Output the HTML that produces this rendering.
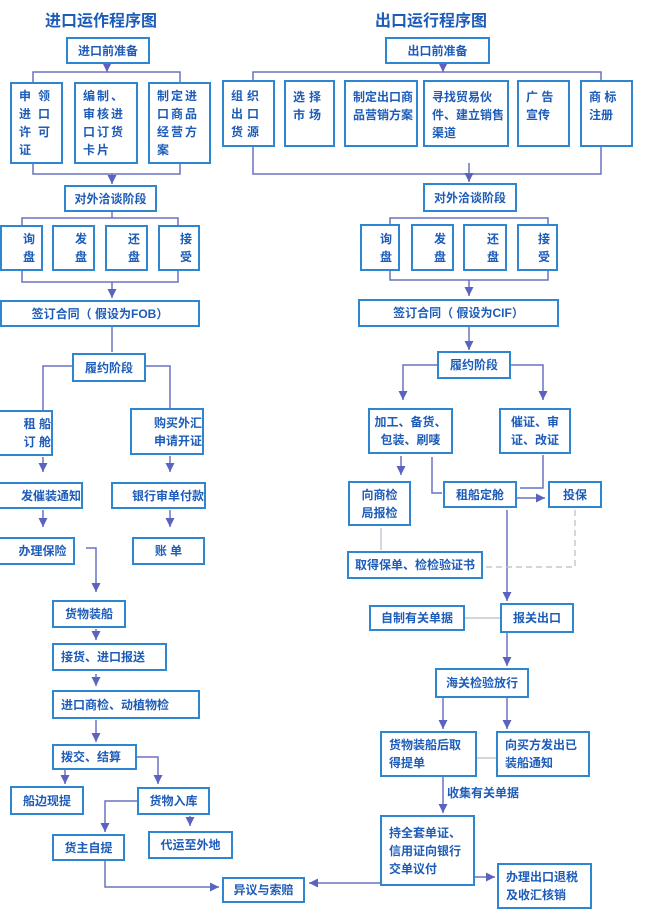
<!DOCTYPE html>
<html><head><meta charset="utf-8"><style>
body{margin:0;width:650px;height:910px;background:#fff;position:relative;overflow:hidden;font-family:"Liberation Sans","Noto Sans CJK SC",sans-serif;}
.b{position:absolute;box-sizing:border-box;border:2px solid #2f86d0;color:#1d5cb8;font-weight:bold;font-size:12px;line-height:18px;display:flex;align-items:center;justify-content:center;text-align:center;background:#fff;}
.l{justify-content:flex-start;text-align:left;padding-left:7px;}
.r{justify-content:flex-end;text-align:right;padding-right:6px;}
.t{position:absolute;color:#1d5cb8;font-weight:bold;font-size:16px;}
.s{letter-spacing:7px;}
svg{position:absolute;left:0;top:0;}
</style></head><body>
<svg width="650" height="910">
<defs><marker id="a" markerWidth="8" markerHeight="8" refX="6" refY="3" orient="auto"><path d="M0,0 L6,3 L0,6 z" fill="#5a64c0"/></marker></defs>
<g stroke="#6a72c0" stroke-width="1.5" fill="none">
<!-- left -->
<path d="M107 63 V72" marker-end="url(#a)"/>
<path d="M33 82 V72 H180 V82"/>
<path d="M33 163 V174 H180 V163"/>
<path d="M112 174 V184" marker-end="url(#a)"/>
<path d="M22 225 V218 H178 V225"/>
<path d="M112 211 V218"/>
<path d="M22 270 V282 H178 V270"/>
<path d="M112 282 V298" marker-end="url(#a)"/>
<path d="M112 326 V352"/>
<path d="M72 366 H43 V410"/>
<path d="M146 366 H170 V408"/>
<path d="M43 457 V472" marker-end="url(#a)"/>
<path d="M170 456 V472" marker-end="url(#a)"/>
<path d="M43 510 V527" marker-end="url(#a)"/>
<path d="M170 510 V527" marker-end="url(#a)"/>
<path d="M86 548 H96 V592" marker-end="url(#a)"/>
<path d="M96 629 V640" marker-end="url(#a)"/>
<path d="M96 674 V686" marker-end="url(#a)"/>
<path d="M96 720 V742" marker-end="url(#a)"/>
<path d="M65 770 V784" marker-end="url(#a)"/>
<path d="M137 757 H158 V784" marker-end="url(#a)"/>
<path d="M137 801 H105 V832" marker-end="url(#a)"/>
<path d="M190 816 V826" marker-end="url(#a)"/>
<path d="M105 861 V887 H219" marker-end="url(#a)"/>
<path d="M380 883 H309" marker-end="url(#a)"/>
<!-- right -->
<path d="M443 63 V72" marker-end="url(#a)"/>
<path d="M253 80 V72 H601 V80"/>
<path d="M253 146 V174 H601 V146"/>
<path d="M469 163 V182" marker-end="url(#a)"/>
<path d="M390 224 V218 H548 V224"/>
<path d="M390 270 V280 H548 V270"/>
<path d="M469 280 V296" marker-end="url(#a)"/>
<path d="M469 326 V350" marker-end="url(#a)"/>
<path d="M437 365 H403 V400" marker-end="url(#a)"/>
<path d="M511 365 H543 V400" marker-end="url(#a)"/>
<path d="M401 456 V475" marker-end="url(#a)"/>
<path d="M432 457 V493 H442"/>
<path d="M543 455 V488 H520"/>
<path d="M517 498 H545" marker-end="url(#a)"/>
<path d="M507 510 V601" marker-end="url(#a)"/>
<path d="M507 632 V666" marker-end="url(#a)"/>
<path d="M443 697 V729" marker-end="url(#a)"/>
<path d="M507 697 V729" marker-end="url(#a)"/>
<path d="M443 777 V813" marker-end="url(#a)"/>
<path d="M475 877 H495" marker-end="url(#a)"/>
</g>
<g stroke="#b8bcc8" stroke-width="1.2" fill="none">
<path d="M381 528 V550"/>
<path d="M575 510 V567 H483" stroke-dasharray="6,4"/>
<path d="M465 618 H500"/>
<path d="M477 758 H496"/>
</g>
</svg>
<div class="t" style="left:45px;top:7px">进口运作程序图</div>
<div class="t" style="left:375px;top:7px">出口运行程序图</div>
<!-- left boxes -->
<div class="b" style="left:66px;top:37px;width:84px;height:27px">进口前准备</div>
<div class="b l s" style="left:10px;top:82px;width:53px;height:82px">申领进口许可证</div>
<div class="b l" style="left:74px;top:82px;width:64px;height:82px;letter-spacing:2px">编制、审核进口订货卡片</div>
<div class="b l" style="left:148px;top:82px;width:63px;height:82px;letter-spacing:2px">制定进口商品经营方案</div>
<div class="b" style="left:64px;top:185px;width:93px;height:27px">对外洽谈阶段</div>
<div class="b r" style="left:0px;top:225px;width:43px;height:46px">询<br>盘</div>
<div class="b r" style="left:52px;top:225px;width:43px;height:46px">发<br>盘</div>
<div class="b r" style="left:105px;top:225px;width:43px;height:46px">还<br>盘</div>
<div class="b r" style="left:158px;top:225px;width:42px;height:46px">接<br>受</div>
<div class="b" style="left:0px;top:300px;width:200px;height:27px">签订合同（ 假设为FOB）</div>
<div class="b" style="left:72px;top:353px;width:74px;height:29px">履约阶段</div>
<div class="b r" style="left:-2px;top:410px;width:55px;height:46px;padding-right:0">租 船<br>订 舱</div>
<div class="b r" style="left:130px;top:408px;width:74px;height:47px;padding-right:0">购买外汇<br>申请开证</div>
<div class="b r" style="left:-2px;top:482px;width:85px;height:27px;padding-right:0">发催装通知</div>
<div class="b r" style="left:111px;top:482px;width:95px;height:27px;padding-right:0">银行审单付款</div>
<div class="b" style="left:-2px;top:537px;width:77px;height:28px;padding-left:12px">办理保险</div>
<div class="b" style="left:132px;top:537px;width:73px;height:28px">账 单</div>
<div class="b" style="left:52px;top:600px;width:74px;height:28px">货物装船</div>
<div class="b l" style="left:52px;top:643px;width:115px;height:28px">接货、进口报送</div>
<div class="b l" style="left:52px;top:690px;width:148px;height:29px">进口商检、动植物检</div>
<div class="b l" style="left:52px;top:744px;width:85px;height:26px">拨交、结算</div>
<div class="b" style="left:10px;top:786px;width:74px;height:29px">船边现提</div>
<div class="b" style="left:137px;top:787px;width:73px;height:28px">货物入库</div>
<div class="b" style="left:52px;top:834px;width:73px;height:27px">货主自提</div>
<div class="b" style="left:148px;top:831px;width:85px;height:28px">代运至外地</div>
<div class="b" style="left:222px;top:877px;width:83px;height:26px">异议与索赔</div>
<!-- right boxes -->
<div class="b" style="left:385px;top:37px;width:105px;height:27px">出口前准备</div>
<div class="b l" style="left:222px;top:80px;width:53px;height:67px;letter-spacing:4px">组织出口货源</div>
<div class="b l" style="left:284px;top:80px;width:51px;height:67px;align-items:flex-start;padding-top:6px;letter-spacing:4px">选择市场</div>
<div class="b l" style="left:344px;top:80px;width:74px;height:67px;align-items:flex-start;padding-top:6px">制定出口商品营销方案</div>
<div class="b l" style="left:423px;top:80px;width:86px;height:67px;align-items:flex-start;padding-top:6px">寻找贸易伙件、建立销售渠道</div>
<div class="b l" style="left:517px;top:80px;width:53px;height:67px;align-items:flex-start;padding-top:6px">广 告<br>宣传</div>
<div class="b l" style="left:580px;top:80px;width:53px;height:67px;align-items:flex-start;padding-top:6px">商 标<br>注册</div>
<div class="b" style="left:423px;top:183px;width:94px;height:29px">对外洽谈阶段</div>
<div class="b r" style="left:360px;top:224px;width:40px;height:47px">询<br>盘</div>
<div class="b r" style="left:411px;top:224px;width:43px;height:47px">发<br>盘</div>
<div class="b r" style="left:463px;top:224px;width:44px;height:47px">还<br>盘</div>
<div class="b r" style="left:517px;top:224px;width:41px;height:47px">接<br>受</div>
<div class="b" style="left:358px;top:299px;width:201px;height:28px">签订合同（ 假设为CIF）</div>
<div class="b" style="left:437px;top:351px;width:74px;height:28px">履约阶段</div>
<div class="b" style="left:368px;top:408px;width:85px;height:46px">加工、备货、<br>包装、刷唛</div>
<div class="b" style="left:499px;top:408px;width:72px;height:46px">催证、审<br>证、改证</div>
<div class="b" style="left:348px;top:481px;width:63px;height:45px">向商检<br>局报检</div>
<div class="b" style="left:443px;top:481px;width:74px;height:27px">租船定舱</div>
<div class="b" style="left:548px;top:481px;width:54px;height:27px">投保</div>
<div class="b" style="left:347px;top:551px;width:136px;height:28px">取得保单、检检验证书</div>
<div class="b" style="left:369px;top:605px;width:96px;height:26px">自制有关单据</div>
<div class="b" style="left:500px;top:603px;width:74px;height:30px">报关出口</div>
<div class="b" style="left:435px;top:668px;width:94px;height:30px">海关检验放行</div>
<div class="b l" style="left:380px;top:731px;width:97px;height:46px">货物装船后取<br>得提单</div>
<div class="b l" style="left:496px;top:731px;width:94px;height:46px">向买方发出已<br>装船通知</div>
<div style="position:absolute;left:447px;top:784px;color:#1d5cb8;font-weight:bold;font-size:12px">收集有关单据</div>
<div class="b l" style="left:380px;top:815px;width:95px;height:71px">持全套单证、<br>信用证向银行<br>交单议付</div>
<div class="b l" style="left:497px;top:863px;width:95px;height:46px">办理出口退税<br>及收汇核销</div>
</body></html>
